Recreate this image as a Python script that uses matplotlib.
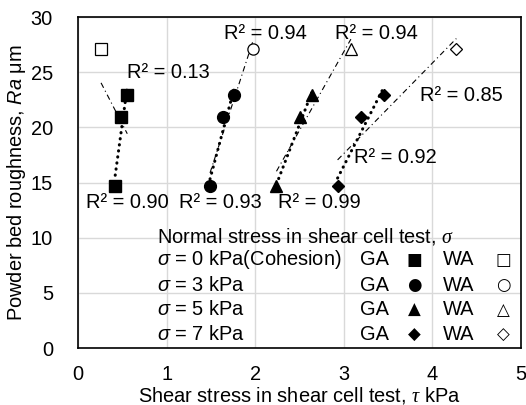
import matplotlib
matplotlib.use("Agg")
import matplotlib.pyplot as plt
import numpy as np

plt.rcParams['font.family'] = ['Liberation Sans', 'DejaVu Sans']
plt.rcParams['mathtext.fontset'] = 'custom'
plt.rcParams['mathtext.it'] = 'Liberation Sans:italic'
plt.rcParams['mathtext.rm'] = 'Liberation Sans'
plt.rcParams['mathtext.sf'] = 'Liberation Serif:italic'

# Ra of the three gas-atomised powders and the water-atomised one
ra_ga = [14.7, 20.9, 22.9]
ra_wa = [27.1]

# shear stress (kPa) per normal stress level
normal_stress = [0, 3, 5, 7]
tau_ga = {
    0: [0.42, 0.48, 0.556],
    3: [1.49, 1.633, 1.764],
    5: [2.24, 2.51, 2.64],
    7: [2.93, 3.19, 3.45],
}
tau_wa = {0: [0.26], 3: [1.97], 5: [3.08], 7: [4.27]}

markers = {0: 's', 3: 'o', 5: '^', 7: 'D'}
msizes = {0: 8.5, 3: 8.5, 5: 8.5, 7: 6.5}
glyphs_ga = {0: '■', 3: '●', 5: '▲', 7: '◆'}
glyphs_wa = {0: '□', 3: '○', 5: '△', 7: '◇'}

# R² text: (text, x, y) for GA-only fit and all-powder fit
r2_labels = [
    ("R² = 0.90", 0.09, 13.15),
    ("R² = 0.13", 0.55, 25.0),
    ("R² = 0.93", 1.14, 13.15),
    ("R² = 0.94", 1.65, 28.5),
    ("R² = 0.99", 2.26, 13.15),
    ("R² = 0.94", 2.90, 28.5),
    ("R² = 0.92", 3.115, 17.3),
    ("R² = 0.85", 3.86, 22.9),
]

fig = plt.figure(figsize=(5.26, 4.05), dpi=100)
ax = fig.add_axes([0.1483, 0.1407, 0.8422, 0.8173])

for s in normal_stress:
    xg = np.array(tau_ga[s])
    yg = np.array(ra_ga)
    xa = np.concatenate([xg, tau_wa[s]])
    ya = np.concatenate([yg, ra_wa])

    # thick dotted fit through GA only
    k, b = np.polyfit(xg, yg, 1)
    xx = np.array([xg.min(), xg.max()])
    ax.plot(xx, k * xx + b, color='black', lw=2.2,
            linestyle=(0, (0.1, 1.9)), dash_capstyle='round', zorder=2)

    # thin dash-dot fit through all four powders
    k2, b2 = np.polyfit(xa, ya, 1)
    xx2 = np.array([xa.min(), xa.max()])
    ax.plot(xx2, k2 * xx2 + b2, color='black', lw=0.8,
            linestyle=(0, (5, 3, 1, 3)), zorder=2)

    ax.plot(xg, yg, linestyle='none', marker=markers[s], ms=msizes[s],
            mfc='black', mec='black', zorder=3)
    ax.plot(tau_wa[s], ra_wa, linestyle='none', marker=markers[s],
            ms=msizes[s] * 0.95, mfc='white', mec='black', mew=0.9, zorder=3)

for txt, x, y in r2_labels:
    ax.text(x, y, txt, fontsize=14.4, ha='left', va='center', zorder=4)

# legend block
ax.text(0.888, 10.15, r"Normal stress in shear cell test, $\mathsf{σ}$",
        fontsize=14.4, va='center', ha='left')
row_text = {0: "= 0 kPa(Cohesion)", 3: "= 3 kPa", 5: "= 5 kPa", 7: "= 7 kPa"}
row_y = {0: 7.98, 3: 5.71, 5: 3.45, 7: 1.18}
for s in normal_stress:
    y = row_y[s]
    ax.text(0.888, y, r"$\mathit{σ}$ " + row_text[s], fontsize=14.4,
            va='center', ha='left')
    ax.text(3.18, y, "GA", fontsize=14.4, va='center', ha='left')
    ax.text(3.80, y, glyphs_ga[s], fontsize=12, va='center', ha='center',
            family='DejaVu Sans')
    ax.text(4.12, y, "WA", fontsize=14.4, va='center', ha='left')
    ax.text(4.80, y, glyphs_wa[s], fontsize=12, va='center', ha='center',
            family='DejaVu Sans')

ax.set_xlim(0, 5)
ax.set_ylim(0, 30)
ax.set_xticks(range(0, 6))
ax.set_yticks(range(0, 31, 5))
ax.grid(True, color='#d9d9d9', lw=1)
ax.set_axisbelow(True)
for sp in ax.spines.values():
    sp.set_color('black')
    sp.set_linewidth(1.2)
ax.tick_params(axis='both', length=0, labelsize=14.4)
ax.tick_params(axis='x', pad=12)
ax.tick_params(axis='y', pad=18)

ax.set_xlabel(r"Shear stress in shear cell test, $\mathsf{τ}$ kPa",
              fontsize=14.4, va='center')
ax.xaxis.set_label_coords(0.5, -0.142)
ax.set_ylabel(r"Powder bed roughness, $\mathit{Ra}$ μm", fontsize=14.4,
              va='center')
ax.yaxis.set_label_coords(-0.138, 0.5)

fig.savefig("out.png", dpi=100)
